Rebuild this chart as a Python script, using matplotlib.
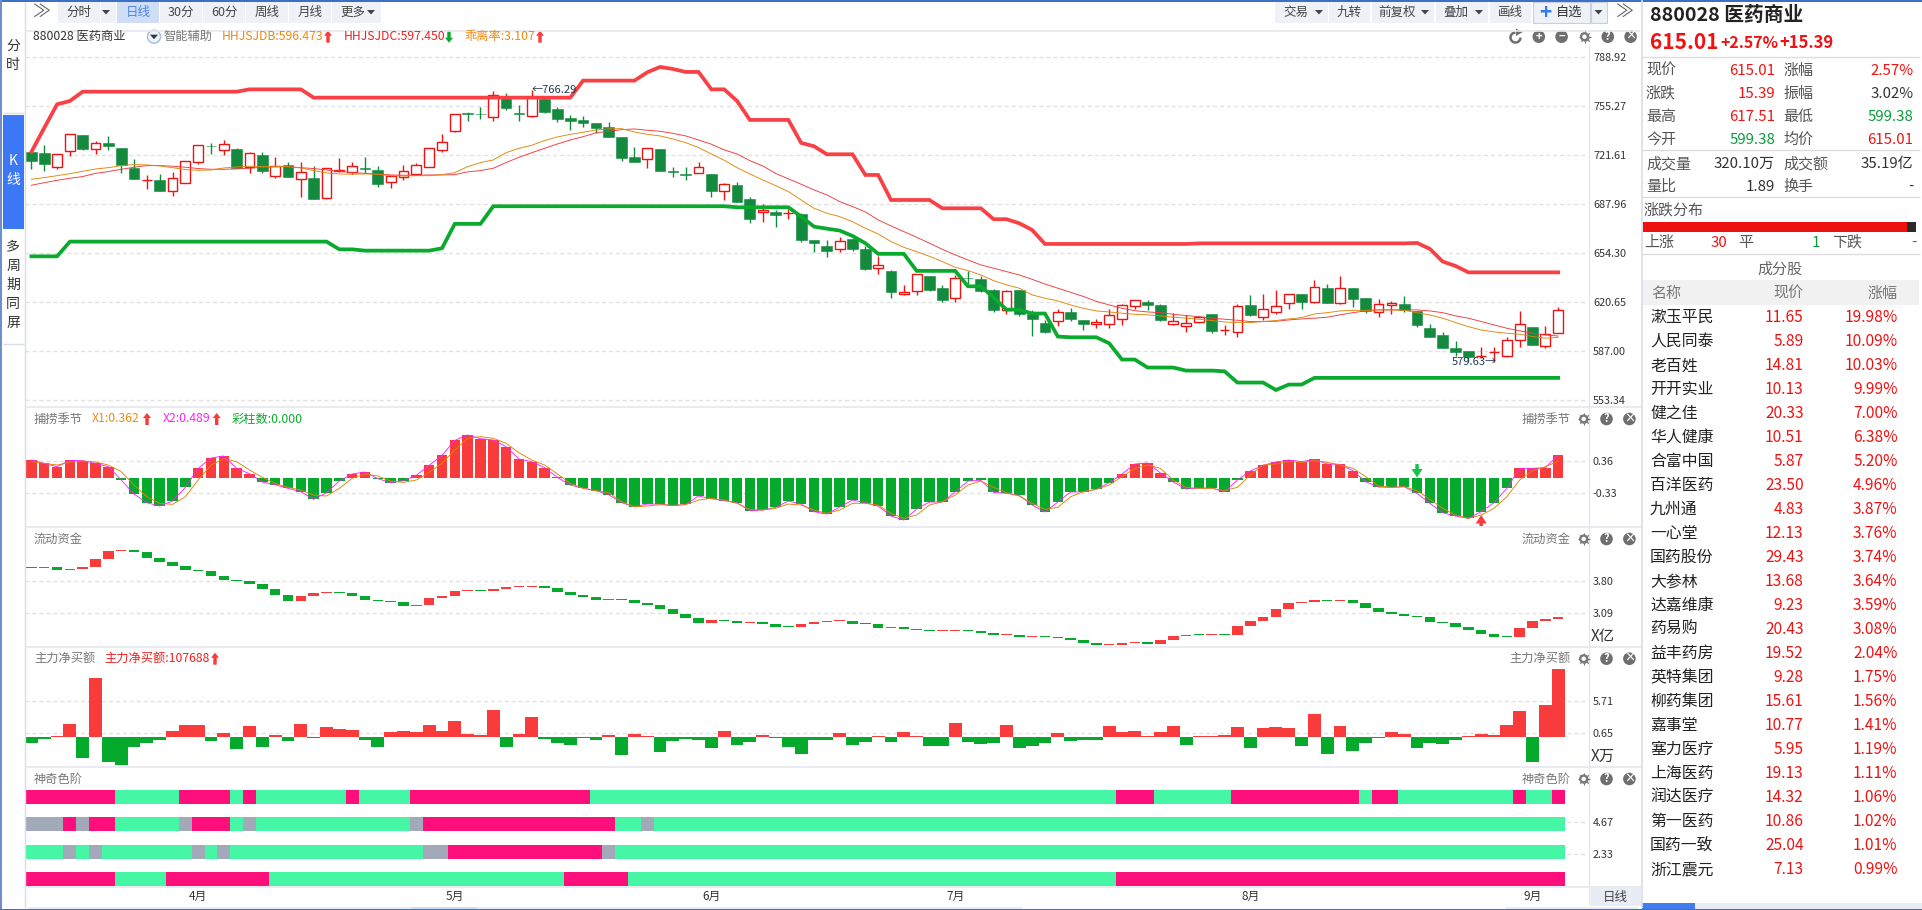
import matplotlib
matplotlib.use('Agg')
import matplotlib.pyplot as plt
from matplotlib.patches import Rectangle, Circle, Polygon, Arc

plt.rcParams['font.family'] = ['Noto Sans CJK SC', 'DejaVu Sans']

# ---------- data ----------
opens = [723.9,723.0,713.4,724.4,735.6,725.7,730.1,726.6,713.1,704.4,704.7,697.3,702.4,717.3,728.2,725.5,726.0,713.8,721.8,707.2,715.0,705.6,706.0,692.1,710.9,710.4,712.7,711.5,703.1,706.5,709.0,713.8,725.0,738.1,750.5,750.0,747.7,762.4,750.5,748.4,760.5,753.4,747.3,745.9,743.6,741.1,734.2,720.2,
718.9,726.0,710.6,708.6,709.2,708.8,696.9,701.2,691.4,682.5,682.7,681.8,681.3,663.5,659.3,657.0,664.1,657.3,644.0,642.2,626.1,628.2,638.5,630.5,623.4,637.6,636.4,629.1,615.1,629.1,612.9,606.5,607.6,613.8,608.3,605.5,605.5,609.0,617.9,620.9,618.8,606.0,604.2,606.9,612.6,601.4,600.0,618.8,610.4,613.8,
620.0,626.4,620.6,630.5,620.0,630.5,623.4,613.8,618.6,619.5,614.9,603.0,598.2,589.3,587.0,583.8,586.5,584.0,594.6,603.5,590.9,599.38]
closes = [717.95,715.9,722.3,736.0,726.2,729.8,728.2,715.0,705.4,704.7,697.3,705.8,717.5,728.5,728.0,729.2,712.7,723.0,711.1,714.5,707.0,709.9,691.9,712.7,711.3,714.1,712.2,701.9,707.6,710.6,714.7,726.4,730.5,749.8,750.2,749.8,763.3,754.4,750.2,761.9,751.6,746.8,745.4,744.1,740.2,734.2,720.0,717.3,
726.4,711.1,710.4,708.3,713.4,697.3,701.7,689.8,678.1,683.8,680.9,682.0,663.7,661.6,656.1,663.0,657.5,643.5,646.1,628.0,628.0,639.9,629.4,622.5,637.1,637.4,628.7,615.6,628.2,612.9,609.4,600.3,614.2,609.2,606.0,606.9,611.7,619.0,622.5,619.0,608.7,607.6,606.2,610.6,601.2,601.6,618.4,612.0,616.3,617.9,
626.6,621.1,631.4,620.4,630.7,623.2,614.7,619.3,620.2,615.1,605.1,597.1,589.5,586.8,582.9,584.0,586.8,594.6,605.5,591.6,599.1,615.01]
highs = [723.9,728.5,722.3,736.0,735.6,731.2,734.9,726.6,719.1,708.3,708.8,710.2,717.5,728.5,730.3,732.1,726.6,723.9,723.7,720.2,716.8,717.0,714.3,712.7,719.6,716.8,720.5,714.3,707.6,715.0,716.1,726.4,736.0,750.2,751.4,754.8,765.6,764.4,755.9,766.29,762.4,754.8,749.1,748.6,743.6,744.5,734.2,727.3,
726.9,726.0,713.8,713.4,716.8,708.8,702.4,703.1,693.0,687.9,684.1,684.5,681.8,663.5,663.5,665.3,664.8,659.3,652.5,642.6,632.6,640.3,638.5,632.6,639.2,641.9,638.7,629.6,628.9,629.1,615.4,608.5,615.8,616.8,608.3,609.2,616.1,619.5,622.5,622.3,619.5,613.1,611.7,611.3,612.6,605.1,619.5,625.7,626.1,629.1,
626.6,626.4,635.8,633.0,638.7,630.5,623.4,622.9,621.3,625.0,614.9,605.8,600.5,594.1,587.0,589.7,589.7,596.6,614.7,603.5,604.4,617.51]
lows = [712.2,711.1,712.2,721.4,725.5,722.5,725.5,709.7,705.4,698.7,697.3,693.9,702.4,715.9,722.8,721.8,712.7,709.7,709.2,706.3,707.0,693.2,691.9,691.4,710.2,708.8,709.2,700.1,699.2,704.9,707.9,713.4,723.9,737.9,745.4,746.3,745.4,752.7,745.4,748.2,750.7,744.5,739.0,741.1,737.2,734.0,717.7,717.3,
713.1,711.1,707.0,704.9,709.2,693.2,691.2,689.8,675.4,676.1,672.6,678.1,662.3,655.4,652.0,655.4,656.1,643.1,640.3,623.9,625.5,625.9,628.4,621.1,621.1,633.5,628.0,614.2,612.9,611.5,597.8,599.8,604.6,608.1,601.7,603.0,603.2,605.3,616.3,615.4,608.1,605.1,600.5,606.2,599.8,598.0,597.1,611.3,608.7,612.9,
616.1,616.1,620.4,620.4,619.7,617.7,613.1,610.8,612.6,614.0,603.9,597.1,589.3,584.0,579.9,582.2,579.63,583.3,590.2,591.6,589.3,599.38]
ma_orange = [705.1,706.3,707.6,709.0,710.6,712.2,713.1,714.5,715.2,715.0,714.3,713.1,711.8,711.3,711.5,712.9,713.6,714.1,713.8,713.8,713.8,712.9,711.1,709.5,708.8,708.6,708.8,708.6,707.6,707.4,707.6,707.6,708.3,709.7,713.8,716.6,718.4,723.4,726.4,728.5,731.7,734.2,736.0,737.4,739.0,739.7,739.9,737.6,
736.0,734.9,732.8,730.3,726.9,722.5,718.2,713.1,708.8,704.7,700.8,696.7,690.9,685.2,681.8,679.5,676.0,671.5,667.6,662.3,658.4,655.4,652.2,648.6,644.7,642.4,639.4,635.5,632.6,630.3,625.7,623.4,621.6,618.8,616.5,614.7,614.0,613.1,612.4,612.0,611.3,610.4,609.7,609.0,608.1,607.1,606.7,606.7,607.4,608.1,
609.2,610.1,612.6,613.5,614.7,615.1,615.1,615.4,615.4,615.1,613.5,611.9,609.7,606.7,603.9,601.6,600.3,599.4,598.7,597.1,596.0,596.47]
ma_red = [701.0,702.8,704.4,705.8,707.0,709.2,710.4,712.0,713.4,714.5,714.5,714.1,713.4,712.5,712.0,712.0,712.2,712.7,713.4,713.8,713.8,713.1,712.5,711.5,710.6,709.7,709.2,708.8,708.1,707.9,707.9,708.1,708.1,708.3,710.2,711.1,712.7,716.6,720.2,723.4,726.4,729.4,732.1,734.4,737.0,738.1,739.2,739.7,
738.8,738.1,736.7,734.9,732.1,729.2,725.3,722.5,717.9,714.3,709.2,705.4,701.7,697.8,694.4,689.8,686.4,682.7,677.2,673.1,669.2,665.3,661.2,657.0,653.2,649.7,646.3,644.0,641.7,639.4,636.4,633.2,630.3,627.5,624.6,621.3,618.8,616.5,614.9,614.0,613.5,612.4,611.5,610.8,609.7,609.0,608.3,607.4,607.4,607.6,
608.5,609.2,609.7,610.4,612.0,613.5,614.7,615.4,615.4,615.4,615.4,614.7,613.5,611.3,609.7,607.4,605.1,602.8,601.0,599.4,598.2,597.45]
band_upper = [723.9,740.4,756.6,758.9]+[765.3]*13+[766.9]*5+[761.2]*21+[772.9]*5+[778.6,782.3,780.9,778.85,778.85,766.9,766.9,758.9]+[745.9]*4+[730.1,727.8]+[722.3]*3+[708.1]*2+[690.9]*4+[685.2]*4+[677.7,677.7,674.9,670.3]+[660.7]*12+[661.1]*17+[661.4,657.3,648.6,645.6]+[641.2]*8
band_lower = [652.2]*3+[662.3]*21+[657.0]*2+[656.1]*6+[657.7]+[674.5]*3+[686.6]*19+[685.9]*5+[679.5,672.6,671.2,669.9,666.2,661.2]+[653.9]*3+[642.2]*4+[631.6]*2+[623.9,615.6,615.6,612.9,612.9,597.1]+[596.6]*3+[592.5,581.3,581.3]+[575.8]*3+[573.7]*3+[573.2]+[565.5]*3+[560.4,564.1,564.1]+[568.7]*20

x2_values = [.388,.316,.244,.381,.374,.316,.244,-.043,-.345,-.532,-.604,-.496,-.201,.209,.431,.475,.209,.093,-.086,-.144,-.223,-.295,-.460,-.316,-.065,.086,.129,-.014,-.101,-.058,.058,.273,.489,.812,.928,.848,.820,.676,.410,.352,.223,.014,-.151,-.216,-.273,-.360,-.532,-.618,
-.561,-.561,-.597,-.568,-.388,-.446,-.489,-.532,-.705,-.690,-.633,-.496,-.561,-.726,-.777,-.626,-.475,-.532,-.604,-.820,-.906,-.669,-.518,-.518,-.302,-.065,-.050,-.309,-.331,-.374,-.582,-.733,-.518,-.302,-.295,-.244,-.101,.086,.302,.324,.108,-.086,-.237,-.216,-.216,-.295,-.043,.151,.273,.345,
.388,.352,.403,.302,.295,.158,-.079,-.194,-.201,-.187,-.331,-.546,-.748,-.820,-.870,-.726,-.532,-.223,.209,.209,.223,.489]
x1_values = [.352,.316,.280,.338,.367,.345,.280,.137,-.151,-.403,-.546,-.568,-.403,-.043,.280,.417,.352,.173,.014,-.115,-.201,-.259,-.367,-.388,-.223,-.007,.086,.043,-.065,-.093,-.043,.122,.316,.604,.856,.892,.856,.748,.546,.388,.280,.086,-.115,-.223,-.273,-.316,-.510,-.618,
-.604,-.575,-.590,-.575,-.475,-.439,-.475,-.546,-.676,-.690,-.654,-.561,-.582,-.690,-.762,-.690,-.546,-.546,-.582,-.762,-.870,-.798,-.582,-.510,-.367,-.151,-.065,-.201,-.316,-.388,-.546,-.676,-.633,-.403,-.295,-.244,-.151,.029,.209,.280,.209,-.043,-.201,-.223,-.223,-.273,-.201,.065,.280,.302,
.352,.338,.374,.338,.280,.209,.029,-.173,-.201,-.187,-.273,-.460,-.654,-.798,-.870,-.798,-.654,-.403,-.043,.158,.244,.362]

flow_tops = [4.118,4.118,4.118,4.074,4.118,4.296,4.473,4.495,4.495,4.451,4.318,4.229,4.140,4.051,4.029,3.918,3.830,3.807,3.741,3.630,3.497,3.475,3.541,3.563,3.563,3.541,3.475,3.386,3.364,3.341,3.275,3.430,3.475,3.586,3.608,3.608,3.630,3.674,3.696,3.696,3.696,3.652,3.563,3.497,3.452,3.408,3.408,3.386,
3.319,3.275,3.186,3.075,2.986,2.942,2.942,2.920,2.898,2.898,2.853,2.809,2.853,2.898,2.920,2.942,2.920,2.876,2.853,2.787,2.787,2.742,2.720,2.720,2.720,2.720,2.698,2.654,2.631,2.609,2.587,2.587,2.565,2.543,2.498,2.432,2.410,2.432,2.454,2.454,2.498,2.587,2.609,2.631,2.631,2.631,2.809,2.920,3.009,3.186,
3.319,3.341,3.386,3.386,3.386,3.386,3.319,3.208,3.120,3.075,3.031,3.009,2.898,2.876,2.787,2.720,2.631,2.587,2.765,2.920,2.964,3.009]
flow_bottoms = [4.103,4.103,4.051,4.051,4.074,4.118,4.296,4.473,4.451,4.318,4.229,4.140,4.051,4.029,3.918,3.830,3.807,3.741,3.630,3.497,3.364,3.364,3.475,3.541,3.541,3.475,3.386,3.364,3.341,3.253,3.253,3.275,3.430,3.475,3.586,3.586,3.586,3.630,3.674,3.674,3.652,3.563,3.497,3.452,3.386,3.386,3.386,3.319,
3.275,3.186,3.075,2.986,2.876,2.876,2.920,2.876,2.876,2.853,2.787,2.787,2.787,2.853,2.898,2.920,2.853,2.853,2.765,2.765,2.742,2.720,2.698,2.698,2.698,2.698,2.654,2.609,2.609,2.565,2.565,2.565,2.543,2.498,2.432,2.387,2.387,2.387,2.432,2.410,2.410,2.498,2.587,2.609,2.609,2.609,2.609,2.809,2.920,3.009,
3.186,3.319,3.341,3.364,3.364,3.319,3.208,3.120,3.075,3.031,3.009,2.898,2.876,2.787,2.720,2.631,2.565,2.565,2.565,2.765,2.920,2.964]
flow_dirs = "GRGRRRRR"+"G"*13+"RRR"+"G"*6+"RRRRR"+"G"+"RRRR"+"GGGGG"+"R"+"GG"+"GGGGG"+"R"+"GG"+"R"+"GGG"+"RRRR"+"GGG"+"R"+"GGG"+"RR"+"GGG"+"R"+"G"+"R"+"GGGGG"+"RRR"+"G"+"RRR"+"G"+"R"+"G"+"RRRR"+"RRR"+"G"+"R"+"G"*13+"RRRR"

net_buy = [-.95,-.32,.16,2.06,-3.32,9.33,-3.95,-4.43,-1.58,-.95,-.47,.95,1.90,1.90,-.63,.63,-1.90,1.74,-1.58,.32,-.63,2.06,-.16,1.58,1.26,1.11,-.47,-1.58,.79,.95,.79,1.90,.95,2.53,.47,.32,4.27,-1.58,.47,3.16,-.32,-.95,-1.26,-.16,-.47,.32,-2.85,.47,
.16,-2.37,-.63,-.32,-.47,-1.74,.95,-1.26,-.79,.32,-.16,-1.58,-2.69,-.47,-.47,.63,-1.26,-.79,.16,-.79,.79,.16,-1.42,-1.42,2.21,-.79,-1.11,-.95,1.90,-1.74,-1.42,-.95,.63,-.63,-.47,-.47,1.74,.79,.95,.16,.79,1.74,-1.26,.16,.16,.32,1.58,-1.74,1.42,1.58,
1.42,-1.42,3.64,-2.69,1.74,-2.21,-.95,-.16,.79,.47,-1.74,-.95,-1.11,-.47,.16,.47,.32,1.90,4.11,-3.95,5.06,10.77]

row_starts = [
    [0,7,12,16,17,18,25,26,30,44,85,88,94,104,105,107,116,117,119],
    [0,3,4,5,7,12,13,16,17,18,30,31,46,48,49],
    [0,3,4,5,6,13,14,15,16,31,33,45,46],
    [0,7,11,19,42,47,85],
]
row_codes = ["PGPGPGPGPGPGPGPGPGP", "APAPGAPGAGAPGAG", "GAGAGAGAGAPAG", "PGPGPGP"]
row_levels = [6, 4, 2, 0]

month_labels = ['4月','5月','6月','7月','8月','9月']
month_pos = [13,33,53,72,95,117]

price_ticks = [788.92,755.27,721.61,687.96,654.30,620.65,587.00,553.34]
osc_ticks = [0.36,-0.33]
flow_ticks = [3.80,3.09]
net_ticks = [5.71,0.65]
step_ticks = [4.67,2.33]

stock_names = ['漱玉平民','人民同泰','老百姓','开开实业','健之佳','华人健康','合富中国','百洋医药','九州通','一心堂','国药股份','大参林','达嘉维康','药易购','益丰药房','英特集团','柳药集团','嘉事堂','塞力医疗','上海医药','润达医疗','第一医药','国药一致','浙江震元']
stock_prices = ['11.65','5.89','14.81','10.13','20.33','10.51','5.87','23.50','4.83','12.13','29.43','13.68','9.23','20.43','19.52','9.28','15.61','10.77','5.95','19.13','14.32','10.86','25.04','7.13']
stock_pcts = ['19.98%','10.09%','10.03%','9.99%','7.00%','6.38%','5.20%','4.96%','3.87%','3.76%','3.74%','3.64%','3.59%','3.08%','2.04%','1.75%','1.56%','1.41%','1.19%','1.11%','1.06%','1.02%','1.01%','0.99%']

quote_rows = [
    ('现价','615.01','r','涨幅','2.57%','r',70.7),
    ('涨跌','15.39','r','振幅','3.02%','k',93.7),
    ('最高','617.51','r','最低','599.38','g',116.7),
    ('今开','599.38','g','均价','615.01','r',139.7),
    ('成交量','320.10万','k','成交额','35.19亿','k',163.7),
    ('量比','1.89','k','换手','-','k',186.7),
]

# ---------- styles ----------
W, H = 1922, 910
RED = '#F01212'; CANDLE_G = '#138A3E'; BAR_R = '#F93B3B'; BAR_G = '#05A92B'
PINK = '#FF0F7B'; MINT = '#45F6A4'; GRAY = '#A2AAB9'
GRID = '#E2E2E2'; SEP = '#E6E8EE'; TXT = '#555555'; GREEN_T = '#0A9A3C'
X0, STEP = 31.4, 12.83
AX_L, AX_R = 24.9, 1586
xlim = ((AX_L - X0) / STEP, (AX_R - X0) / STEP)
xs = list(range(120))
code_col = {'P': PINK, 'G': MINT, 'A': GRAY}

fig = plt.figure(figsize=(W / 100, H / 100), dpi=100, facecolor='white')

def make_ax(top, bottom, ylim, ticks, labels=None):
    ax = fig.add_axes([AX_L / W, 1 - bottom / H, (AX_R - AX_L) / W, (bottom - top) / H])
    ax.set_xlim(*xlim); ax.set_ylim(*ylim)
    for s in ax.spines.values():
        s.set_visible(False)
    ax.yaxis.tick_right()
    ax.set_yticks(ticks)
    ax.set_yticklabels(labels if labels else ['%.2f' % t for t in ticks], fontsize=7.8, color='#333333')
    ax.tick_params(axis='y', length=0, pad=5)
    ax.set_xticks([])
    ax.grid(axis='y', color=GRID, linestyle=(0, (3, 2)), linewidth=1.0)
    ax.set_axisbelow(True)
    return ax

# main candles
ax1 = make_ax(31, 407, (548.7, 806.98), price_ticks)
for i in xs:
    up = closes[i] >= opens[i]
    col = RED if up else CANDLE_G
    ax1.vlines(i, lows[i], highs[i], color=col, linewidth=1.0, zorder=2)
    b, h = min(opens[i], closes[i]), abs(closes[i] - opens[i])
    if up:
        ax1.bar(i, h, bottom=b, width=.76, facecolor='white', edgecolor=RED, linewidth=1.0, zorder=3)
    else:
        ax1.bar(i, h, bottom=b, width=.84, facecolor=CANDLE_G, edgecolor=CANDLE_G, linewidth=.4, zorder=3)
ax1.plot(xs, ma_red, color='#F4383C', lw=.65, zorder=4)
ax1.plot(xs, ma_orange, color='#E08608', lw=.65, zorder=4)
ax1.plot(xs, band_upper, color='#F94044', lw=2.7, zorder=5, solid_joinstyle='miter')
ax1.plot(xs, band_lower, color='#0AAA2E', lw=2.7, zorder=5, solid_joinstyle='miter')
ax1.text(39, 766.29, '←766.29', fontsize=8, color='#1F3B57', va='center', ha='left', zorder=6)
ax1.text(114.2, 579.63, '579.63→', fontsize=8, color='#1F3B57', va='center', ha='right', zorder=6)

# oscillator
ax2 = make_ax(407, 527, (-1.056, 1.531), osc_ticks)
ax2.bar(xs, x2_values, width=.82, color=[BAR_R if v > 0 else BAR_G for v in x2_values], zorder=2)
ax2.plot(xs, x2_values, color='#FF22FF', lw=.65, zorder=3)
ax2.plot(xs, x1_values, color='#E08608', lw=.65, zorder=4)
ax2.annotate('', xy=(108, .014), xytext=(108, .30), arrowprops=dict(facecolor='#14C24A', edgecolor='none', width=2.5, headwidth=8, headlength=6))
ax2.annotate('', xy=(113, -.80), xytext=(113, -1.04), arrowprops=dict(facecolor='#F93B3B', edgecolor='none', width=2.5, headwidth=8, headlength=6))

# liquidity
ax3 = make_ax(527, 647, (2.343, 5.005), flow_ticks)
ax3.bar(xs, [t - b for t, b in zip(flow_tops, flow_bottoms)], bottom=flow_bottoms, width=.82,
        color=[BAR_R if d == 'R' else BAR_G for d in flow_dirs], zorder=2)

# net buy
ax4 = make_ax(647, 767, (-4.68, 14.3), net_ticks)
ax4.bar(xs, net_buy, width=1.0, color=[BAR_R if v > 0 else BAR_G for v in net_buy], zorder=2)

# colour rows
ax5 = make_ax(767, 887, (-.08, 8.69), step_ticks)
for starts, codes, lev in zip(row_starts, row_codes, row_levels):
    ends = starts[1:] + [120]
    for s, e, c in zip(starts, ends, codes):
        ax5.barh(lev + .5, e - s, left=s - .5, height=1.0, color=code_col[c], zorder=2)
ax5.set_xticks(month_pos)
ax5.set_xticklabels(month_labels, fontsize=8.5, color='#333333')
ax5.tick_params(axis='x', length=0, pad=2)

# ---------- overlay chrome ----------
ov = fig.add_axes([0, 0, 1, 1], facecolor='none', zorder=20)
ov.set_xlim(0, W); ov.set_ylim(H, 0); ov.axis('off')

def T(x, y, s, size=8.5, color='#333333', ha='left', weight='normal'):
    ov.text(x, y, s, fontsize=size, color=color, ha=ha, va='center', fontweight=weight)

def R(x0, y0, x1, y1, fc, ec='none', lw=0):
    ov.add_patch(Rectangle((x0, y0), x1 - x0, y1 - y0, facecolor=fc, edgecolor=ec, linewidth=lw))

def L(x0, y0, x1, y1, c=SEP, lw=1.0):
    ov.plot([x0, x1], [y0, y1], color=c, lw=lw, solid_capstyle='butt')

def arrow(x, y, up=True, c='#F93B3B'):
    d = -1 if up else 1
    ov.add_patch(Polygon([(x, y + 6 * d), (x - 4, y + 1 * d), (x - 1.7, y + 1 * d), (x - 1.7, y - 6 * d),
                          (x + 1.7, y - 6 * d), (x + 1.7, y + 1 * d), (x + 4, y + 1 * d)], facecolor=c, edgecolor='none'))

def tri(x, y, c='#444444'):
    ov.add_patch(Polygon([(x - 4, y - 2), (x + 4, y - 2), (x, y + 2.5)], facecolor=c, edgecolor='none'))

def icon(x, y, s):
    if s == 'gear':
        ov.scatter([x], [y], s=95, marker=(8, 1, 0), color='#7A7A7A', linewidths=0, zorder=3)
        ov.add_patch(Circle((x, y), 4.6, facecolor='#7A7A7A', edgecolor='none', zorder=4))
        ov.add_patch(Circle((x, y), 2.2, facecolor='white', edgecolor='none', zorder=5))
    else:
        ov.add_patch(Circle((x, y), 6.3, facecolor='#6F6F6F', edgecolor='none'))
        ov.text(x, y - .3, s, fontsize=8, color='white', ha='center', va='center', fontweight='bold')

# frame
R(0, 0, W, 1.5, '#3F6FC4')
R(0, 0, 1.5, H, '#6F8FCB')
R(0, 908.5, W, H, '#3F6FC4')
L(24.5, 2, 24.5, 908, '#D9DDE8')
L(25, 31, 1640, 31, SEP, 1.2)
for yy in (407, 527, 647, 767, 887):
    L(25, yy, 1641, yy, SEP, 1.2)
L(1589, 45, 1589, 888, '#E4E6EC')
L(1641.5, 0, 1641.5, 908, '#D9DDE8', 1.2)

# sidebar
for ch, yy in [('分', 46), ('时', 64.5)]:
    T(13, yy, ch, 10, '#333333', 'center')
L(3, 113, 24, 113, '#D9DDE8')
R(3, 115, 24, 229, '#3C78F6')
T(13, 161, 'K', 10, 'white', 'center')
T(13, 180, '线', 10, 'white', 'center')
for ch, yy in zip('多周期同屏', (247, 266, 285, 304, 323)):
    T(13, yy, ch, 10, '#333333', 'center')
L(3, 344, 24, 344, '#D9DDE8')

# toolbar
for x0, x1, s in [(58, 100, '分时'), (160, 202, '30分'), (203, 245, '60分'), (246, 288, '周线'), (289, 331, '月线')]:
    R(x0, 2, x1, 23, '#EEF1F6')
    T((x0 + x1) / 2, 12.7, s, 9, '#444444', 'center')
R(101, 2, 115.5, 23, '#EEF1F6'); tri(106, 12)
R(117, 2, 159, 23, '#CFDDF6'); T(138, 12.7, '日线', 9, '#4A86EE', 'center')
R(332, 2, 381, 23, '#EEF1F6'); T(340, 12, '更多', 9, '#444444'); tri(371, 12)
T(42, 12.5, '≫', 13, '#666666', 'center')
for x0, x1, s, tx in [(1275, 1328, '交易', 1296), (1372, 1434, '前复权', 1397), (1436, 1488, '叠加', 1456)]:
    R(x0, 2, x1, 23, '#EEF1F6'); T(tx, 12, s, 9, '#444444', 'center'); tri(x1 - 9, 12)
for x0, x1, s in [(1329, 1370, '九转'), (1490, 1531, '画线')]:
    R(x0, 2, x1, 23, '#EEF1F6'); T((x0 + x1) / 2, 12.7, s, 9, '#444444', 'center')
R(1532.6, 2, 1590, 22.5, '#EEF1F6', '#C8D0E0', .8)
T(1545, 12.5, '+', 15, '#2F7BEF', 'center', 'bold')
T(1556, 12, '自选', 9.5, '#333333')
R(1591, 2, 1606.5, 22.5, '#EEF1F6', '#C8D0E0', .8); tri(1598.5, 12)
T(1625, 12.5, '≫', 13, '#666666', 'center')

# info row
T(33, 36.7, '880028 医药商业', 8.8, '#333333')
ov.add_patch(Circle((154, 36.7), 6.5, facecolor='#EEF3FB', edgecolor='#A8BBD8', linewidth=1)); tri(154, 36.7, '#333333')
T(164, 36.7, '智能辅助', 8.8, '#777777')
T(222, 36.7, 'HHJSJDB:596.473', 8.8, '#EE8A12'); arrow(328, 36.7, True)
T(343.7, 36.7, 'HHJSJDC:597.450', 8.8, '#F02020'); arrow(449, 36.7, False, '#0AAA2E')
T(464, 36.7, '乖离率:3.107', 8.8, '#EE8A12'); arrow(540, 36.7, True)

ov.add_patch(Arc((1515.5, 37.5), 10, 10, theta1=0, theta2=270, color='#6F6F6F', lw=1.8))
ov.add_patch(Polygon([(1516, 28.5), (1516, 36), (1522.5, 32.2)], facecolor='#6F6F6F', edgecolor='none'))
for x, s in zip((1538.8, 1561.6, 1584.5, 1607.8, 1630.6), ('+', '−', 'gear', '?', '×')):
    icon(x, 36.7, s)

# panel captions
T(34, 419, '捕捞季节', 8.8, '#777777')
T(92, 419, 'X1:0.362', 8.8, '#EE8A12'); arrow(147, 419)
T(162.4, 419, 'X2:0.489', 8.8, '#FF22FF'); arrow(216.7, 419)
T(232, 419, '彩柱数:0.000', 8.8, '#0AAA2E')
T(34, 539, '流动资金', 8.8, '#777777')
T(34, 658.7, '主力净买额', 8.8, '#777777')
T(104, 658.7, '主力净买额:107688', 8.8, '#F02020'); arrow(215, 658.7)
T(34, 779, '神奇色阶', 8.8, '#777777')
for yy, s in [(419, '捕捞季节'), (539, '流动资金'), (658.7, '主力净买额'), (779, '神奇色阶')]:
    T(1570.6, yy, s, 8.8, '#777777', 'right')
    for x, g in zip((1583.7, 1606.5, 1629.4), ('gear', '?', '×')):
        icon(x, yy, g)
T(1591, 637, 'X亿', 11, '#333333')
T(1591, 756.7, 'X万', 11, '#333333')

# bottom right of chart
R(1589, 888, 1641, 906, '#E8ECF5'); T(1615, 897, '日线', 9, '#444444', 'center')
R(28, 906.5, 1022, 908.5, '#E8ECF5'); R(411, 906.5, 477, 908.5, '#CFDDF6'); R(1506, 906.5, 1638, 908.5, '#E8ECF5')
R(1642, 903, W, 908.5, '#E8ECF5'); R(1642, 903, 1695, 908.5, '#3F7EF0')

# right panel
T(1650, 15.5, '880028 医药商业', 14.2, '#222222', 'left', 'bold')
T(1650, 42.5, '615.01', 15, RED, 'left', 'bold')
T(1720, 42.5, '+2.57%', 11.5, RED, 'left', 'bold')
T(1779.6, 42.5, '+15.39', 12, RED, 'left', 'bold')
L(1642, 57, W - 2, 57, '#DDDDDD')
col = {'r': RED, 'g': GREEN_T, 'k': '#333333'}
for a, av, ac, b, bv, bc, yy in quote_rows:
    T(1646, yy, a, 10.8, '#555555')
    T(1775, yy, av, 10.8, col[ac], 'right')
    T(1783, yy, b, 10.8, '#555555')
    T(1913.5, yy, bv, 10.8, col[bc], 'right')
L(1642, 150, W - 2, 150, '#DDDDDD')
L(1642, 196.7, W - 2, 196.7, '#DDDDDD')
T(1644, 210.7, '涨跌分布', 10.8, '#555555')
R(1643.3, 221.7, 1906.5, 231.7, '#EE0F0F')
R(1906.5, 221.7, 1916, 231.7, '#2A2A2A')
T(1644, 242.7, '上涨', 10.8, '#555555')
T(1727, 242.7, '30', 10.8, RED, 'right')
T(1738, 242.7, '平', 10.8, '#555555')
T(1820, 242.7, '1', 10.8, GREEN_T, 'right')
T(1832, 242.7, '下跌', 10.8, '#555555')
T(1916, 242.7, '-', 10.8, GREEN_T, 'right')
L(1642, 254, W - 2, 254, '#DDDDDD')
T(1780, 269.7, '成分股', 10.8, '#666666', 'center')
R(1642, 280, 1919, 305, '#F1F1F1')
T(1651.4, 293.7, '名称', 10.8, '#777777')
T(1803, 293.7, '现价', 10.8, '#777777', 'right')
T(1897.5, 293.7, '涨幅', 10.8, '#777777', 'right')
for k, (n, p, c) in enumerate(zip(stock_names, stock_prices, stock_pcts)):
    yy = 317.7 + 24 * k
    T(1650, yy, n, 11.4, '#222222')
    T(1803.7, yy, p, 11.2, RED, 'right')
    T(1897.5, yy, c, 11.2, RED, 'right')

fig.savefig('out.png', dpi=100, facecolor='white')
